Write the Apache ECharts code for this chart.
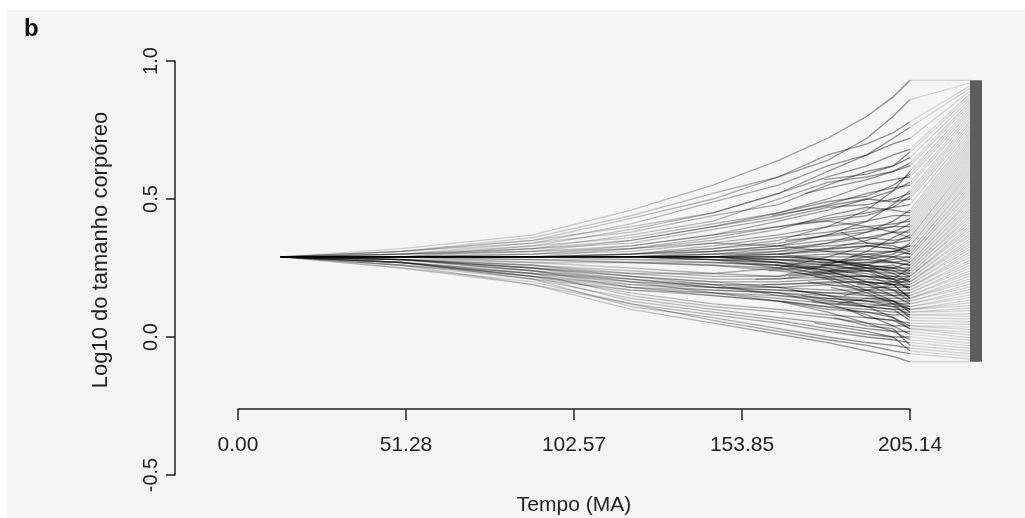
<!DOCTYPE html>
<html>
<head>
<meta charset="utf-8">
<title>Fenograma</title>
<script src="https://cdn.jsdelivr.net/npm/echarts@6/dist/echarts.min.js"></script>
<style>
  html, body { margin: 0; padding: 0; background: #fff; }
  #chart { width: 1025px; height: 518px; }
</style>
</head>
<body>
<div id="chart"></div>
<script>
  // tempos (MA) em que cada linhagem foi lida
  var tempo = [13, 50, 90, 120, 145, 165, 180, 192, 200, 205.14];

  // linhagens que sobem
  var ramosSuperiores = [
    [0.29, 0.32, 0.37, 0.46, 0.55, 0.64, 0.72, 0.80, 0.87, 0.93],
    [0.29, 0.31, 0.36, 0.44, 0.52, 0.58, 0.64, 0.72, 0.80, 0.86],
    [0.29, 0.31, 0.35, 0.43, 0.50, 0.58, 0.66, 0.70, 0.74, 0.78],
    [0.29, 0.30, 0.34, 0.41, 0.49, 0.55, 0.62, 0.66, 0.70, 0.72],
    [0.29, 0.30, 0.33, 0.39, 0.45, 0.52, 0.58, 0.62, 0.66, 0.68],
    [0.29, 0.31, 0.34, 0.38, 0.44, 0.48, 0.55, 0.60, 0.62, 0.65],
    [0.29, 0.30, 0.32, 0.37, 0.42, 0.50, 0.56, 0.58, 0.60, 0.62],
    [0.29, 0.29, 0.33, 0.36, 0.41, 0.45, 0.50, 0.55, 0.57, 0.58],
    [0.29, 0.30, 0.31, 0.35, 0.40, 0.44, 0.48, 0.52, 0.54, 0.55],
    [0.29, 0.29, 0.32, 0.34, 0.39, 0.43, 0.47, 0.48, 0.50, 0.52],
    [0.29, 0.29, 0.30, 0.33, 0.37, 0.42, 0.46, 0.50, 0.49, 0.50],
    [0.29, 0.30, 0.31, 0.32, 0.36, 0.40, 0.43, 0.45, 0.47, 0.48],
    [0.29, 0.29, 0.29, 0.32, 0.35, 0.39, 0.44, 0.47, 0.46, 0.45],
    [0.29, 0.29, 0.30, 0.31, 0.34, 0.37, 0.40, 0.42, 0.44, 0.44],
    [0.29, 0.29, 0.29, 0.30, 0.33, 0.36, 0.38, 0.40, 0.41, 0.42],
    [0.29, 0.30, 0.32, 0.35, 0.40, 0.45, 0.49, 0.51, 0.55, 0.59],
    [0.29, 0.31, 0.35, 0.40, 0.45, 0.52, 0.60, 0.66, 0.72, 0.76],
    [0.29, 0.29, 0.31, 0.33, 0.37, 0.40, 0.42, 0.40, 0.38, 0.36]
  ];

  // linhagens perto do tronco
  var ramosCentrais = [
    [0.29, 0.29, 0.29, 0.30, 0.32, 0.34, 0.37, 0.39, 0.40, 0.40],
    [0.29, 0.29, 0.29, 0.30, 0.31, 0.33, 0.35, 0.36, 0.38, 0.38],
    [0.29, 0.29, 0.29, 0.29, 0.31, 0.32, 0.34, 0.36, 0.35, 0.36],
    [0.29, 0.29, 0.29, 0.29, 0.30, 0.32, 0.33, 0.34, 0.34, 0.35],
    [0.29, 0.29, 0.29, 0.29, 0.30, 0.31, 0.32, 0.33, 0.32, 0.33],
    [0.29, 0.29, 0.29, 0.29, 0.29, 0.30, 0.31, 0.31, 0.31, 0.32],
    [0.29, 0.29, 0.29, 0.29, 0.29, 0.29, 0.30, 0.30, 0.31, 0.30],
    [0.29, 0.29, 0.29, 0.29, 0.29, 0.29, 0.29, 0.29, 0.29, 0.29],
    [0.29, 0.29, 0.29, 0.29, 0.29, 0.28, 0.28, 0.28, 0.27, 0.28],
    [0.29, 0.29, 0.29, 0.29, 0.28, 0.28, 0.27, 0.27, 0.27, 0.26],
    [0.29, 0.29, 0.29, 0.28, 0.28, 0.27, 0.26, 0.26, 0.25, 0.25],
    [0.29, 0.29, 0.28, 0.28, 0.27, 0.26, 0.25, 0.25, 0.24, 0.24],
    [0.29, 0.29, 0.28, 0.27, 0.27, 0.26, 0.24, 0.24, 0.23, 0.23],
    [0.29, 0.28, 0.28, 0.27, 0.26, 0.25, 0.23, 0.22, 0.22, 0.22],
    [0.29, 0.29, 0.27, 0.27, 0.26, 0.24, 0.22, 0.22, 0.21, 0.21],
    [0.29, 0.29, 0.30, 0.32, 0.34, 0.33, 0.31, 0.29, 0.27, 0.26],
    [0.29, 0.29, 0.29, 0.29, 0.30, 0.30, 0.28, 0.25, 0.24, 0.22],
    [0.29, 0.29, 0.29, 0.29, 0.29, 0.28, 0.27, 0.28, 0.30, 0.34]
  ];

  // clado que desce cedo (~0.18)
  var ramosInferiores = [
    [0.29, 0.28, 0.25, 0.22, 0.20, 0.20, 0.21, 0.21, 0.20, 0.20],
    [0.29, 0.27, 0.24, 0.21, 0.19, 0.19, 0.20, 0.20, 0.19, 0.19],
    [0.29, 0.28, 0.24, 0.20, 0.19, 0.18, 0.19, 0.18, 0.18, 0.18],
    [0.29, 0.27, 0.23, 0.20, 0.18, 0.18, 0.17, 0.17, 0.17, 0.17],
    [0.29, 0.28, 0.25, 0.21, 0.18, 0.17, 0.16, 0.16, 0.16, 0.16],
    [0.29, 0.27, 0.22, 0.19, 0.18, 0.17, 0.16, 0.15, 0.15, 0.15],
    [0.29, 0.28, 0.24, 0.19, 0.17, 0.16, 0.15, 0.14, 0.14, 0.14],
    [0.29, 0.27, 0.23, 0.18, 0.17, 0.16, 0.14, 0.13, 0.13, 0.13],
    [0.29, 0.28, 0.26, 0.22, 0.19, 0.15, 0.14, 0.13, 0.12, 0.12],
    [0.29, 0.27, 0.22, 0.17, 0.16, 0.15, 0.13, 0.12, 0.11, 0.11],
    [0.29, 0.28, 0.25, 0.20, 0.16, 0.14, 0.12, 0.11, 0.10, 0.10],
    [0.29, 0.27, 0.21, 0.17, 0.15, 0.13, 0.11, 0.10, 0.09, 0.09],
    [0.29, 0.28, 0.24, 0.18, 0.15, 0.13, 0.10, 0.09, 0.08, 0.08],
    [0.29, 0.28, 0.26, 0.23, 0.21, 0.21, 0.23, 0.24, 0.25, 0.27],
    [0.29, 0.28, 0.27, 0.25, 0.23, 0.22, 0.24, 0.26, 0.29, 0.31],
    [0.29, 0.27, 0.23, 0.21, 0.18, 0.16, 0.12, 0.08, 0.04, 0.01],
    [0.29, 0.28, 0.25, 0.22, 0.20, 0.18, 0.15, 0.11, 0.07, 0.03],
    [0.29, 0.27, 0.22, 0.18, 0.16, 0.13, 0.09, 0.05, 0.02, -0.01],
    [0.29, 0.28, 0.26, 0.24, 0.22, 0.22, 0.26, 0.31, 0.36, 0.39],
    [0.29, 0.28, 0.25, 0.23, 0.23, 0.25, 0.29, 0.33, 0.34, 0.37]
  ];

  // linhagens que vão mais para baixo
  var ramosBasais = [
    [0.29, 0.27, 0.22, 0.16, 0.12, 0.10, 0.08, 0.07, 0.06, 0.05],
    [0.29, 0.26, 0.23, 0.15, 0.11, 0.09, 0.07, 0.05, 0.04, 0.04],
    [0.29, 0.27, 0.21, 0.14, 0.10, 0.07, 0.05, 0.03, 0.02, 0.02],
    [0.29, 0.26, 0.22, 0.13, 0.09, 0.06, 0.03, 0.01, 0.00, 0.00],
    [0.29, 0.25, 0.20, 0.12, 0.08, 0.05, 0.02, 0.00, -0.01, -0.02],
    [0.29, 0.26, 0.21, 0.11, 0.07, 0.03, 0.00, -0.02, -0.03, -0.04],
    [0.29, 0.25, 0.19, 0.12, 0.06, 0.02, -0.01, -0.03, -0.05, -0.06],
    [0.29, 0.26, 0.19, 0.10, 0.05, 0.01, -0.02, -0.05, -0.07, -0.09]
  ];

  // linhagens que divergem tarde do tronco
  var ramosTardios = [
    [0.29, 0.29, 0.29, 0.29, 0.29, 0.27, 0.24, 0.20, 0.17, 0.15],
    [0.29, 0.29, 0.29, 0.29, 0.29, 0.27, 0.23, 0.19, 0.15, 0.12],
    [0.29, 0.29, 0.29, 0.29, 0.28, 0.26, 0.22, 0.17, 0.13, 0.10],
    [0.29, 0.29, 0.29, 0.29, 0.28, 0.25, 0.21, 0.16, 0.12, 0.07],
    [0.29, 0.29, 0.29, 0.29, 0.29, 0.30, 0.32, 0.35, 0.38, 0.41],
    [0.29, 0.29, 0.29, 0.29, 0.29, 0.31, 0.34, 0.38, 0.42, 0.46],
    [0.29, 0.29, 0.29, 0.30, 0.31, 0.33, 0.37, 0.42, 0.48, 0.53],
    [0.29, 0.29, 0.29, 0.30, 0.32, 0.35, 0.40, 0.46, 0.53, 0.60],
    [0.29, 0.29, 0.29, 0.29, 0.29, 0.28, 0.26, 0.24, 0.20, 0.18],
    [0.29, 0.29, 0.29, 0.29, 0.29, 0.29, 0.28, 0.26, 0.23, 0.20],
    [0.29, 0.29, 0.29, 0.29, 0.29, 0.29, 0.28, 0.25, 0.21, 0.17],
    [0.29, 0.29, 0.29, 0.29, 0.28, 0.27, 0.25, 0.22, 0.19, 0.14]
  ];

  // ramos recentes: [início (MA), valor no início, valor em 192, em 200, na ponta]
  var tempoRecente = [192, 200, 205.14];
  var ramosRecentes = [
    [176, 0.22, 0.19, 0.17, 0.13],
    [168, 0.22, 0.25, 0.26, 0.24],
    [181, 0.18, 0.15, 0.13, 0.09],
    [160, 0.19, 0.20, 0.19, 0.21],
    [172, 0.15, 0.11, 0.10, 0.06],
    [185, 0.15, 0.17, 0.19, 0.18],
    [164, 0.26, 0.23, 0.21, 0.19],
    [178, 0.26, 0.29, 0.31, 0.33],
    [170, 0.29, 0.26, 0.25, 0.23],
    [187, 0.29, 0.30, 0.29, 0.27],
    [166, 0.13, 0.09, 0.07, 0.04],
    [183, 0.12, 0.14, 0.13, 0.11],
    [174, 0.20, 0.17, 0.15, 0.16],
    [158, 0.21, 0.22, 0.21, 0.25],
    [180, 0.24, 0.20, 0.19, 0.14],
    [162, 0.24, 0.27, 0.28, 0.29],
    [186, 0.10, 0.07, 0.06, 0.03],
    [169, 0.17, 0.13, 0.11, 0.08],
    [177, 0.27, 0.24, 0.22, 0.20],
    [189, 0.19, 0.19, 0.20, 0.22],
    [175, 0.13, 0.11, 0.12, 0.10],
    [165, 0.30, 0.33, 0.32, 0.30],
    [167, 0.35, 0.38, 0.40, 0.43],
    [171, 0.41, 0.44, 0.47, 0.51],
    [163, 0.44, 0.50, 0.53, 0.56],
    [173, 0.52, 0.57, 0.60, 0.63],
    [179, 0.57, 0.59, 0.62, 0.67],
    [184, 0.38, 0.34, 0.33, 0.31],
    [182, 0.07, 0.04, 0.03, -0.03],
    [176, 0.05, 0.02, 0.00, -0.05]
  ];

  var xTicks = ['0.00', '51.28', '102.57', '153.85', '205.14'];
  var xPasso = 51.285;
  var tempoMax = 205.14;

  // coluna de rótulos das pontas (à direita)
  var tempoRotulos = 223.5;
  var tempoBarra = 225.3;
  var rotuloTopo = 0.93;
  var rotuloBase = -0.09;

  var chart = echarts.init(document.getElementById('chart'));

  var antigas = ramosSuperiores.concat(ramosCentrais, ramosInferiores, ramosBasais, ramosTardios);
  var linhas = antigas.map(function (v) {
    return { coords: tempo.map(function (t, i) { return [t, v[i]]; }) };
  });
  ramosRecentes.forEach(function (r) {
    var pts = [[r[0], r[1]]];
    tempoRecente.forEach(function (t, i) { pts.push([t, r[i + 2]]); });
    linhas.push({ coords: pts });
  });

  var pontas = antigas.concat(ramosRecentes)
    .map(function (v) { return v[v.length - 1]; })
    .sort(function (a, b) { return b - a; });
  var passo = (rotuloTopo - rotuloBase) / (pontas.length - 1);
  var conectores = pontas.map(function (p, i) {
    return { coords: [[tempoMax, p], [tempoRotulos, rotuloTopo - i * passo]] };
  });

  var fonte = '"Liberation Sans", Arial, sans-serif';

  // traço mais claro no início da árvore, mais escuro perto das pontas
  var corRamos = {
    type: 'linear', global: true, x: 300, y: 0, x2: 910, y2: 0,
    colorStops: [
      { offset: 0, color: 'rgba(0,0,0,0.14)' },
      { offset: 0.5, color: 'rgba(0,0,0,0.2)' },
      { offset: 1, color: 'rgba(0,0,0,0.45)' }
    ]
  };

  chart.setOption({
    animation: false,
    backgroundColor: '#ffffff',
    grid: { left: 238, right: 115, top: 61, bottom: 43, outerBoundsMode: 'none' },
    xAxis: {
      type: 'value',
      min: 0,
      max: tempoMax,
      interval: xPasso,
      offset: -66,
      splitLine: { show: false },
      axisLine: { onZero: false, lineStyle: { color: '#222', width: 1.5 } },
      axisTick: { length: 11, lineStyle: { color: '#222', width: 1.5 } },
      axisLabel: {
        margin: 26,
        fontSize: 21,
        fontFamily: fonte,
        color: '#222',
        formatter: function (v) { return xTicks[Math.round(v / xPasso)]; }
      },
      name: 'Tempo (MA)',
      nameLocation: 'middle',
      nameGap: 86,
      nameTextStyle: { fontSize: 21, fontFamily: fonte, color: '#222' }
    },
    yAxis: {
      type: 'value',
      min: -0.5,
      max: 1.0,
      interval: 0.5,
      offset: 63,
      splitLine: { show: false },
      axisLine: { show: true, onZero: false, lineStyle: { color: '#222', width: 1.5 } },
      axisTick: { show: true, length: 9, lineStyle: { color: '#222', width: 1.5 } },
      axisLabel: {
        rotate: 90,
        margin: 14,
        fontSize: 20,
        fontFamily: fonte,
        color: '#222',
        formatter: function (v) { return v.toFixed(1); }
      }
    },
    graphic: [
      { type: 'rect', z: -10, shape: { x: 7, y: 10, width: 1018, height: 508 }, style: { fill: '#f5f5f5' }, silent: true },
      { type: 'text', left: 24, top: 17, style: { text: 'b', font: 'bold 24px ' + fonte, fill: '#111' } },
      {
        type: 'text', x: 101, y: 250, rotation: Math.PI / 2,
        style: { text: 'Log10 do tamanho corpóreo', font: '22px ' + fonte, fill: '#222', align: 'center', verticalAlign: 'middle' }
      }
    ],
    series: [
      {
        type: 'lines',
        coordinateSystem: 'cartesian2d',
        polyline: true,
        clip: false,
        silent: true,
        data: conectores,
        lineStyle: { color: '#000', opacity: 0.14, width: 1.2 }
      },
      {
        type: 'lines',
        coordinateSystem: 'cartesian2d',
        polyline: true,
        clip: false,
        silent: true,
        data: linhas,
        lineStyle: { color: corRamos, opacity: 1, width: 1.3 }
      },
      {
        type: 'lines',
        coordinateSystem: 'cartesian2d',
        clip: false,
        silent: true,
        data: [{ coords: [[tempoBarra, rotuloTopo], [tempoBarra, rotuloBase]] }],
        lineStyle: { color: '#5e5e5e', opacity: 1, width: 12 }
      }
    ]
  });
</script>
</body>
</html>
